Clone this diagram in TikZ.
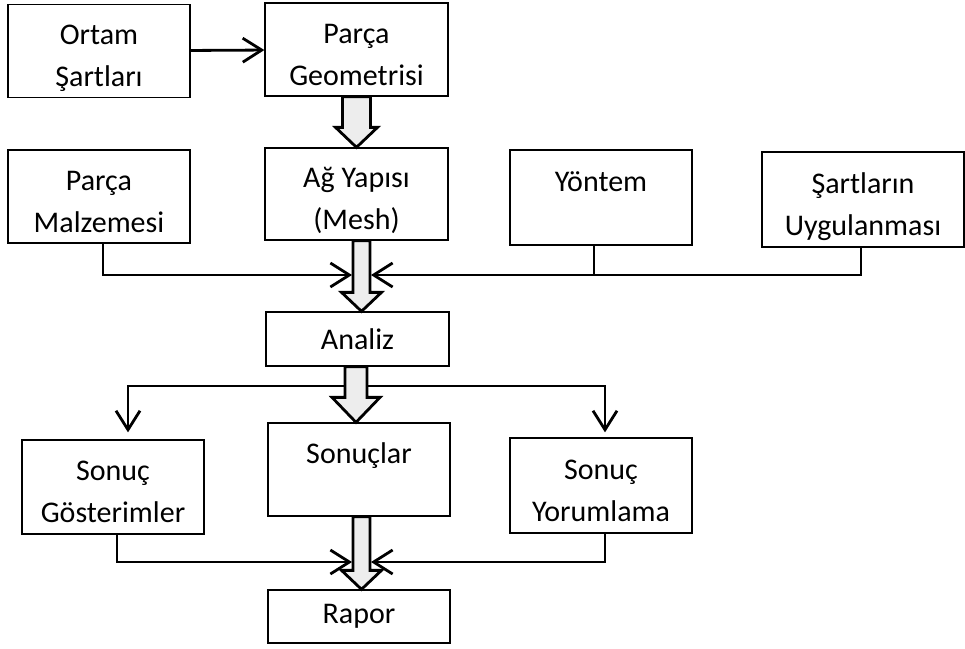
\documentclass[tikz,border=0pt]{standalone}
\usepackage{fontspec}
\setmainfont{Carlito}
\usetikzlibrary{arrows.meta,calc}

% fixed line extents so that every box sets its text the same way
\newcommand{\tstr}{\rule{0pt}{37pt}}
\newcommand{\bstr}{\rule[-8pt]{0pt}{8pt}}

% big hollow arrow: from, to, x offset, half shaft, half head, head length
\newcommand{\fatarrow}[6]{%
  \draw[fatarr] ($(#1.south -| #2.north)+(#3-#4,0)$)
    -- ($(#2.north)+(#3-#4,-#6)$) -- ($(#2.north)+(#3-#5,-#6)$)
    -- ($(#2.north)+(#3,0)$)
    -- ($(#2.north)+(#3+#5,-#6)$) -- ($(#2.north)+(#3+#4,-#6)$)
    -- ($(#1.south -| #2.north)+(#3+#4,0)$) -- cycle;}

\begin{document}
\begin{tikzpicture}[x=1pt,y=-1pt,
		box/.style={draw,line width=1.3pt,align=center,inner sep=0pt,
			minimum width=182pt,minimum height=93pt,
			font=\fontsize{30}{42}\selectfont},
		conn/.style={line width=2.8pt},
		arr/.style={conn,-{Straight Barb[length=19pt,width=24pt]}},
		fatarr/.style={draw,line width=2.8pt,fill=black!7,line join=miter}
		]
		\useasboundingbox (0,0) rectangle (965,648);
		
		\node[box] (ortam) at (99,51) {\tstr Ortam\\Şartları\bstr};
		\node[box,minimum width=183pt] (geo) at (356.5,49.5) {\tstr Parça\\Geometrisi\bstr};
		\node[box] (malz) at (99,196.5) {\tstr Parça\\Malzemesi\bstr};
		\node[box,minimum width=183pt,minimum height=92pt] (mesh) at (356.5,194) {\tstr Ağ Yapısı\\(Mesh)\bstr};
		\node[box,minimum height=95pt] (yon) at (601,197.5) {\tstr Yöntem\\\bstr};
		\node[box,minimum width=202pt,minimum height=95pt] (sart) at (863,199.5) {\tstr Şartların\\Uygulanması\bstr};
		\node[box,minimum width=183pt,minimum height=54pt] (analiz) at (357.5,339) {Analiz};
		\node[box,minimum height=94pt] (gost) at (113,487) {\tstr Sonuç\\Gösterimler\bstr};
		\node[box] (sonuc) at (359,469.5) {\tstr Sonuçlar\\\bstr};
		\node[box,minimum height=95pt] (yor) at (601,485.5) {\tstr Sonuç\\Yorumlama\bstr};
		\node[box,minimum height=53pt] (rapor) at (359,616.5) {Rapor};
		
		\coordinate (inL) at (352,275);
		\coordinate (inR) at (371,275);
		\coordinate (fork) at (357,386);
		\coordinate (outL) at (352,562);
		\coordinate (outR) at (371,562);
		
		\draw[arr] (ortam) -- (geo);
		\draw[arr] ([xshift=4pt]malz.south) |- (inL);
		\draw[arr] ([xshift=-2pt]sart.south) |- (inR);
		\draw[conn] ([xshift=-7pt]yon.south) -- ([xshift=-7pt]yon.south |- inR);
		\draw[arr,shorten >=7pt] (fork) -| ([xshift=15pt]gost.north);
		\draw[arr,shorten >=5pt] (fork) -| ([xshift=4pt]yor.north);
		\draw[arr] ([xshift=4pt]gost.south) |- (outL);
		\draw[arr] ([xshift=4pt]yor.south) |- (outR);
		
		\fatarrow{geo}{mesh}{0}{14}{21}{20}
		\fatarrow{mesh}{analiz}{4}{8.5}{20}{19}
		\fatarrow{analiz}{sonuc}{-3}{11}{24}{25}
		\fatarrow{sonuc}{rapor}{2.5}{8.5}{20}{19}
	\end{tikzpicture}
\end{document}
